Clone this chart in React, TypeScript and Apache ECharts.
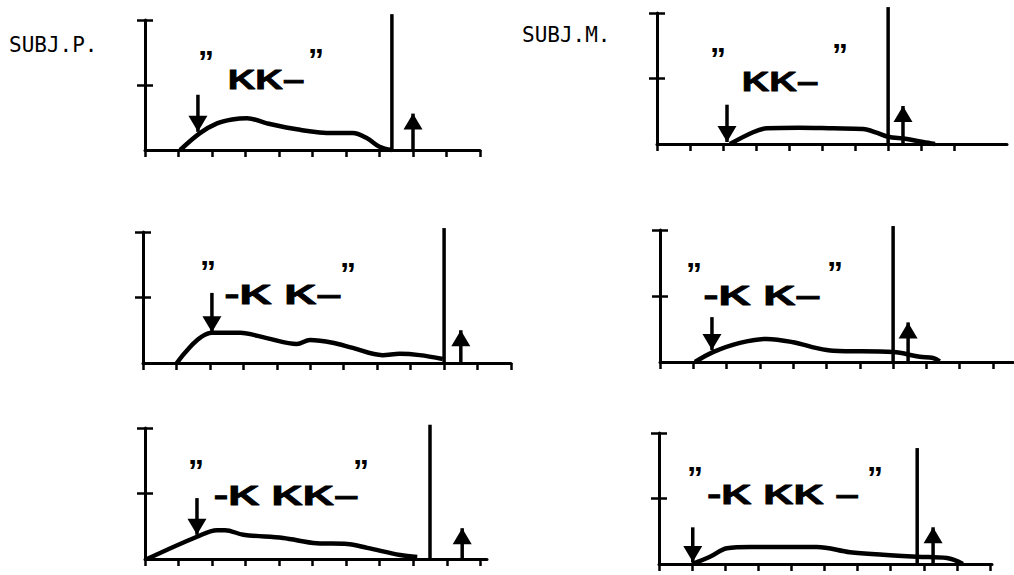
import React, { useEffect, useRef } from "react";
import * as echarts from "echarts";

// ---------- data (x in tick units, y in axis units 0..2) ----------
const subjects = ["SUBJ.P.", "SUBJ.M."];
const stimulusLabels = ["KK–", "KK–", "-K K–", "-K K–", "-K KK–", "-K KK –"];

const curveP1 = [[1.05, 0], [1.64, 0.26], [2.15, 0.41], [2.6, 0.47], [3.05, 0.49], [3.64, 0.41], [4.63, 0.31], [5.6, 0.26], [6.2, 0.26], [6.63, 0.18], [7.0, 0.05], [7.37, 0]];
const curveM1 = [[2.21, 0], [2.91, 0.18], [3.33, 0.24], [4.3, 0.25], [5.33, 0.24], [6.24, 0.23], [6.67, 0.17], [7.0, 0.11], [7.52, 0.08], [8.06, 0.03], [8.42, 0]];
const curveP2 = [[1.01, 0], [2.06, 0.46], [2.9, 0.46], [3.7, 0.38], [4.6, 0.29], [4.99, 0.35], [5.67, 0.31], [6.27, 0.23], [7.16, 0.12], [7.67, 0.14], [8.27, 0.12], [8.96, 0.06]];
const curveM2 = [[1.05, 0], [1.59, 0.15], [2.4, 0.29], [3.21, 0.35], [4.0, 0.3], [4.71, 0.21], [5.2, 0.17], [7.0, 0.15], [7.8, 0.08], [8.2, 0.06], [8.4, 0.01]];
const curveP3 = [[0.06, 0], [1.55, 0.34], [2.15, 0.44], [2.39, 0.44], [2.93, 0.37], [4.12, 0.32], [5.13, 0.24], [6.03, 0.23], [6.63, 0.17], [7.61, 0.06], [8.12, 0.03]];
const curveM3 = [[1.0, 0], [1.54, 0.11], [2.05, 0.24], [2.75, 0.26], [4.77, 0.26], [5.77, 0.18], [6.77, 0.14], [7.8, 0.11], [8.7, 0.09], [9.18, 0]];
const curves = [curveP1, curveM1, curveP2, curveM2, curveP3, curveM3];

const downArrowX = [1.58, 2.12, 2.06, 1.56, 1.55, 1.02];
const downArrowTop = [0.85, 0.6, 1.07, 0.68, 0.93, 0.56];
const downArrowTip = [0.28, 0.03, 0.47, 0.18, 0.37, 0.03];

const markerLineX = [7.37, 7.0, 9.0, 7.0, 8.5, 7.8];
const markerLineTop = [2.09, 2.09, 2.06, 2.06, 2.05, 1.77];

const upArrowX = [8.0, 7.45, 9.5, 7.45, 9.46, 8.28];
const upArrowTop = [0.56, 0.58, 0.5, 0.6, 0.47, 0.56];

const xAxisMax = [10, 10.6, 11, 10.6, 10.2, 10.06];
const xTickLast = [10, 9, 11, 10, 10, 10];
const yTicks = [1, 2];

// ---------- layout ----------
const grids = [
  { left: 145, top: 20, width: 335, height: 130 },
  { left: 657, top: 13, width: 350, height: 131 },
  { left: 143, top: 232, width: 368, height: 131 },
  { left: 660, top: 230, width: 353, height: 132 },
  { left: 145, top: 428, width: 342, height: 131 },
  { left: 659, top: 433, width: 333, height: 131 },
];
const TICK_HALF = 8;
const labelPos = [
  { x: 266, y: 79, sx: 1.37 },
  { x: 780, y: 81, sx: 1.37 },
  { x: 283, y: 294, sx: 1.6 },
  { x: 762, y: 295, sx: 1.6 },
  { x: 286, y: 495, sx: 1.55 },
  { x: 783, y: 495, sx: 1.5 },
];
const quotePos = [
  [[206, 53], [316, 51]],
  [[718, 50], [840, 46]],
  [[208, 263], [348, 265]],
  [[694, 265], [835, 264]],
  [[196, 462], [361, 462]],
  [[695, 469], [875, 469]],
];
const subjectPos = [
  { x: 9, y: 45 },
  { x: 522, y: 35 },
];

const INK = "#000";
const HEAD: [number, number] = [19, 16];

export default function App() {
  const ref = useRef<HTMLDivElement>(null);
  useEffect(() => {
    if (!ref.current) return;
    const chart = echarts.init(ref.current, undefined, { renderer: "svg" });

    const gridOpts: any[] = [];
    const xAxes: any[] = [];
    const yAxes: any[] = [];
    const series: any[] = [];
    const graphics: any[] = [];

    const lineSeries = (i: number, data: number[][], width: number, smooth: number | boolean = false) => ({
      type: "line",
      xAxisIndex: i,
      yAxisIndex: i,
      data,
      smooth,
      showSymbol: false,
      symbol: "none",
      clip: false,
      silent: true,
      lineStyle: { color: INK, width },
    });

    // main grids
    grids.forEach((g, i) => {
      gridOpts.push({ ...g, containLabel: false, outerBoundsMode: "none" });
      const xt: number[] = [];
      for (let k = 0; k <= xTickLast[i]; k++) xt.push(k);
      xAxes.push({
        gridIndex: i,
        type: "value",
        min: 0,
        max: xAxisMax[i],
        interval: 1,
        axisLine: { show: true, onZero: false, lineStyle: { color: INK, width: 3 } },
        axisTick: { show: true, inside: false, length: 7, lineStyle: { color: INK, width: 2.5 }, customValues: xt },
        axisLabel: { show: false },
        splitLine: { show: false },
      });
      yAxes.push({
        gridIndex: i,
        type: "value",
        position: "left",
        min: 0,
        max: 2,
        interval: 1,
        axisLine: { show: true, onZero: false, lineStyle: { color: INK, width: 3 } },
        axisTick: { show: false },
        axisLabel: { show: false },
        splitLine: { show: false },
      });
      series.push(lineSeries(i, curves[i], 4.5, 0.35));
      series.push(lineSeries(i, [[markerLineX[i], 0], [markerLineX[i], markerLineTop[i]]], 3.5));
      series.push(lineSeries(i, [[downArrowX[i], downArrowTop[i]], [downArrowX[i], downArrowTip[i]]], 3.5));
      series.push(lineSeries(i, [[upArrowX[i], 0], [upArrowX[i], upArrowTop[i]]], 3.5));
      series.push({
        type: "scatter",
        xAxisIndex: i,
        yAxisIndex: i,
        silent: true,
        clip: false,
        symbol: "triangle",
        symbolSize: HEAD,
        itemStyle: { color: INK, opacity: 1 },
        data: [
          { value: [downArrowX[i], downArrowTip[i]], symbolRotate: 180, symbolOffset: [0, -HEAD[1] / 2] },
          { value: [upArrowX[i], upArrowTop[i]], symbolRotate: 0, symbolOffset: [0, HEAD[1] / 2] },
        ],
      });

      graphics.push({
        type: "text",
        x: labelPos[i].x,
        y: labelPos[i].y,
        scaleX: labelPos[i].sx,
        silent: true,
        style: {
          text: stimulusLabels[i],
          fill: INK,
          stroke: INK,
          lineWidth: 0.8,
          fontFamily: "Liberation Sans",
          fontWeight: "bold",
          fontSize: 28,
          align: "center",
          verticalAlign: "middle",
        },
      });
      quotePos[i].forEach((q) => {
        graphics.push({
          type: "text",
          x: q[0],
          y: q[1] + 8.5,
          silent: true,
          style: {
            text: "”",
            fill: INK,
            fontFamily: "Liberation Sans",
            fontWeight: "bold",
            fontSize: 32,
            align: "center",
            verticalAlign: "middle",
          },
        });
      });
    });

    // helper grids: y ticks that cross the y axis on both sides
    grids.forEach((g, i) => {
      const gi = grids.length + i;
      gridOpts.push({ left: g.left - TICK_HALF, top: g.top, width: 2 * TICK_HALF, height: g.height, containLabel: false, outerBoundsMode: "none" });
      xAxes.push({
        gridIndex: gi,
        type: "value",
        min: 0,
        max: 1,
        show: false,
      });
      yAxes.push({
        gridIndex: gi,
        type: "value",
        position: "left",
        min: 0,
        max: 2,
        interval: 1,
        axisLine: { show: false, onZero: false },
        axisTick: { show: true, inside: true, length: 2 * TICK_HALF, lineStyle: { color: INK, width: 2.5 }, customValues: yTicks },
        axisLabel: { show: false },
        splitLine: { show: false },
      });
    });

    subjects.forEach((s, i) => {
      graphics.push({
        type: "text",
        x: subjectPos[i].x,
        y: subjectPos[i].y,
        silent: true,
        style: {
          text: s,
          fill: INK,
          fontFamily: "DejaVu Sans Mono",
          fontSize: 21,
          align: "left",
          verticalAlign: "middle",
        },
      });
    });

    chart.setOption({
      animation: false,
      backgroundColor: "#fff",
      grid: gridOpts,
      xAxis: xAxes,
      yAxis: yAxes,
      series,
      graphic: { elements: graphics },
    });
    return () => chart.dispose();
  }, []);

  return (
    <div
      ref={ref}
      style={{ position: "absolute", left: 0, top: 0, width: 1014, height: 575, background: "#fff" }}
    />
  );
}
